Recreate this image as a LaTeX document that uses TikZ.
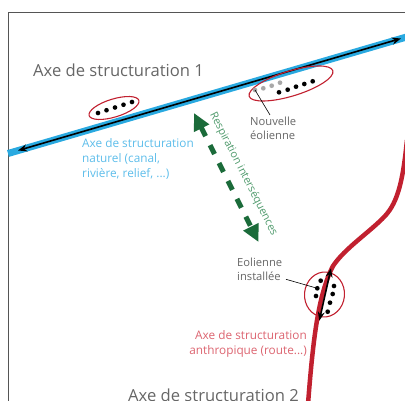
\documentclass[tikz,border=0pt]{standalone}
\usepackage{fontspec}
\setmainfont{Open Sans}
\usetikzlibrary{arrows.meta,shapes.geometric}
\definecolor{framegray}{HTML}{555555}
\definecolor{axeblue}{HTML}{29A9E0}
\definecolor{txtblue}{HTML}{5DBDEA}
\definecolor{dkgreen}{HTML}{1B6B3A}
\definecolor{txtgreen}{HTML}{4F9A6C}
\definecolor{roadred}{HTML}{C1202F}
\definecolor{txtred}{HTML}{DC6470}
\definecolor{txtgray}{HTML}{666666}
\definecolor{dotgray}{HTML}{A8A8A8}
\tikzset{
  wdot/.style={circle,fill=black,inner sep=0pt,minimum size=4.7pt},
  gdot/.style={wdot,fill=dotgray},
  ring/.style={ellipse,draw=roadred,line width=1.1pt,inner sep=0pt},
  lbl/.style={inner sep=0pt,align=left,font=\fontsize{11.2}{14}\selectfont},
  bigtitle/.style={inner sep=0pt,text=txtgray,font=\fontsize{16.6}{19}\selectfont},
  blackarrow/.style={black,line width=1.6pt,{Stealth[length=9pt,width=7pt]}-{Stealth[length=9pt,width=7pt]}},
  leader/.style={black,line width=0.6pt}
}
\begin{document}
\begin{tikzpicture}[x=1pt,y=-1pt]
\useasboundingbox (0,0) rectangle (405,401);
\clip (0,0) rectangle (405,401);
% frame
\coordinate (fTR) at (406,13);
\coordinate (fTL) at (8,13);
\coordinate (fBL) at (8,402);
\draw[framegray,line width=1pt] (fTR) -- (fTL) -- (fBL);
% natural axis
\coordinate (bL) at (8,153.5);
\coordinate (bR) at (410,36);
\draw[axeblue,line width=7pt] (bL) -- (bR);
\coordinate (aL) at (18,150.5);
\coordinate (aR) at (401,38.5);
\draw[blackarrow] (aL) -- (aR);
% left group
\node[ring,minimum width=52pt,minimum height=18pt,rotate=17] (e1) at (114,108) {};
\foreach \i/\x/\y in {1/98/113,2/106.5/110.25,3/115/107.5,4/123.5/104.75,5/132/102}
  \node[wdot] (l\i) at (\x,\y) {};
% right group
\node[ring,minimum width=87.5pt,minimum height=25pt,rotate=17] (e2) at (291,83.5) {};
\foreach \i/\x/\y in {1/255/90,2/263.3/88.3,3/271.7/85.7,4/280/82.7}
  \node[gdot] (g\i) at (\x,\y) {};
\foreach \i/\x/\y in {1/279/92.3,2/287.7/89.7,3/296/86.7,4/304.3/84,5/312.7/81.3}
  \node[wdot] (r\i) at (\x,\y) {};
\node[lbl,text=txtgray,anchor=north west] (nouv) at (250,117) {Nouvelle\\éolienne};
\coordinate (nl) at (270,115);
\draw[leader] (g1.center) -- (nl);
% titles
\node[bigtitle,anchor=base west] (t1) at (33,76.5) {Axe de structuration 1};
\node[bigtitle,anchor=base west] (t2) at (128,401) {Axe de structuration 2};
\node[lbl,text=txtblue,anchor=north west,font=\fontsize{11.8}{15}\selectfont] (nat) at (82,138.5) {Axe de structuration\\naturel (canal,\\rivière, relief, ...)};
% green breathing arrow
\node[inner sep=0pt] (gA) at (194,113) {};
\node[inner sep=0pt] (gB) at (258.5,242) {};
\draw[dkgreen,line width=5pt,dash pattern=on 10pt off 10pt,{Triangle[length=17pt,width=16pt]}-{Triangle[length=17pt,width=16pt]}] (gA.center) -- (gB.center);
\node[text=txtgreen,inner sep=0pt,rotate=-63,font=\fontsize{10.8}{12}\selectfont] (resp) at (243.5,174) {Respiration interséquences};
% road
\draw[roadred,line width=4.5pt] (308,404) .. controls (313,340) and (318,295) .. (333,266)
  .. controls (345,248) and (370,232) .. (385,216)
  .. controls (398,202) and (403,180) .. (407,140);
\node[ring,minimum width=40pt,minimum height=45pt,rotate=-5] (e3) at (324.5,294.5) {};
\coordinate (rA) at (319.3,320.7);
\coordinate (rB) at (331,268.3);
\draw[blackarrow] (rA) -- (rB);
\foreach \i/\x/\y in {1/320.7/280.7,2/317.3/288.3,3/316/296,4/334/286,5/332.7/294,6/330/302.7,7/327.7/311.7}
  \node[wdot] (s\i) at (\x,\y) {};
\node[lbl,text=txtgray,anchor=north west] (inst) at (237,257.5) {Eolienne\\installée};
\coordinate (il) at (286,279.3);
\draw[leader] (il) -- (s2.center);
\node[lbl,text=txtred,anchor=north east,align=right,font=\fontsize{11.8}{15}\selectfont] (anth) at (307,330.5) {Axe de structuration\\anthropique (route...)};
\end{tikzpicture}
\end{document}
